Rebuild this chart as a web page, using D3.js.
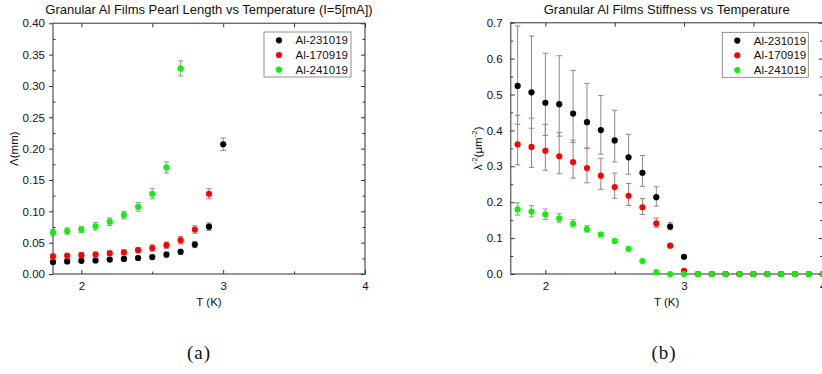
<!DOCTYPE html>
<html>
<head>
<meta charset="utf-8">
<script src="https://cdn.jsdelivr.net/npm/d3@7"></script>
<style>
  html, body { margin: 0; padding: 0; background: #fff; }
  svg { display: block; }
  text { font-family: "Liberation Sans", Arial, sans-serif; fill: #111; }
</style>
</head>
<body>
<svg id="fig" width="822" height="374"></svg>
<script>
// ---- series (temperatures in K) ----
const seriesNames = ["Al-231019", "Al-170919", "Al-241019"];
const seriesColors = ["#000000", "#ff0000", "#11ee11"];
const errColors = ["#8a8a8a", "#b07878", "#7fa87f"];

// Panel (a): pearl length Λ (mm) at I = 5 mA
const tempsA = [1.8, 1.9, 2.0, 2.1, 2.2, 2.3, 2.4, 2.5, 2.6, 2.7, 2.8, 2.9, 3.0];
const lambdaBlack = [0.019, 0.020, 0.021, 0.0215, 0.023, 0.024, 0.0255, 0.027, 0.031, 0.0355, 0.047, 0.0755, 0.207];
const lambdaBlackErr = [0.003, 0.003, 0.003, 0.003, 0.003, 0.003, 0.003, 0.003, 0.004, 0.004, 0.005, 0.006, 0.010];
const lambdaRed = [0.028, 0.029, 0.030, 0.031, 0.033, 0.0345, 0.038, 0.0415, 0.046, 0.054, 0.071, 0.128];
const lambdaRedErr = [0.004, 0.004, 0.004, 0.004, 0.004, 0.004, 0.004, 0.005, 0.005, 0.006, 0.006, 0.008];
const lambdaGreen = [0.066, 0.0685, 0.071, 0.076, 0.0835, 0.094, 0.107, 0.128, 0.170, 0.328];
const lambdaGreenErr = [0.005, 0.005, 0.005, 0.006, 0.006, 0.006, 0.007, 0.008, 0.009, 0.012];

// Panel (b): stiffness λ^-2 (μm^-2), asymmetric errors
const tempsB = [1.8, 1.9, 2.0, 2.1, 2.2, 2.3, 2.4, 2.5, 2.6, 2.7, 2.8, 2.9, 3.0,
                3.1, 3.2, 3.3, 3.4, 3.5, 3.6, 3.7, 3.8, 3.9, 4.0];
const stiffBlack = [0.524, 0.506, 0.477, 0.473, 0.447, 0.423, 0.401, 0.372, 0.325, 0.282, 0.214, 0.132, 0.048,
                    0, 0, 0, 0, 0, 0, 0, 0, 0, 0];
const stiffBlackUp = [0.167, 0.157, 0.138, 0.135, 0.120, 0.108, 0.096, 0.084, 0.064, 0.048, 0.029, 0.011, 0];
const stiffBlackDown = [0.107, 0.100, 0.091, 0.089, 0.081, 0.072, 0.067, 0.060, 0.047, 0.038, 0.025, 0.009, 0];
const stiffRed = [0.361, 0.354, 0.343, 0.328, 0.312, 0.295, 0.274, 0.242, 0.218, 0.186, 0.141, 0.079, 0.009,
                  0, 0, 0, 0, 0, 0, 0, 0, 0, 0];
const stiffRedUp = [0.081, 0.080, 0.074, 0.066, 0.061, 0.055, 0.048, 0.039, 0.034, 0.024, 0.015, 0.004, 0];
const stiffRedDown = [0.057, 0.057, 0.054, 0.049, 0.045, 0.041, 0.038, 0.031, 0.027, 0.020, 0.011, 0.004, 0];
const stiffGreen = [0.180, 0.174, 0.166, 0.155, 0.140, 0.125, 0.110, 0.092, 0.070, 0.036, 0.005, 0,
                    0, 0, 0, 0, 0, 0, 0, 0, 0, 0, 0];
const stiffGreenUp = [0.018, 0.016, 0.015, 0.013, 0.011, 0.0095, 0.006, 0.004, 0.003, 0.002, 0];
const stiffGreenDown = [0.016, 0.015, 0.014, 0.011, 0.009, 0.008, 0.006, 0.004, 0.003, 0.002, 0];

// ---- axis ticks ----
const xTicks = [2, 3, 4];
const xMinor = [2.5, 3.5];
const yTicksA = [0, 0.05, 0.10, 0.15, 0.20, 0.25, 0.30, 0.35, 0.40];
const yMinorA = [0.025, 0.075, 0.125, 0.175, 0.225, 0.275, 0.325, 0.375];
const yTicksB = [0, 0.1, 0.2, 0.3, 0.4, 0.5, 0.6, 0.7];
const yMinorB = [0.05, 0.15, 0.25, 0.35, 0.45, 0.55, 0.65];

const svg = d3.select("#fig");

function build(temps, vals, up, down) {
  return vals.map((v, i) => ({
    t: temps[i], v: v,
    up: up[i] === undefined ? 0 : up[i],
    down: down[i] === undefined ? 0 : down[i]
  }));
}

function panel(cfg) {
  const x = d3.scaleLinear().domain(cfg.xDomain).range([cfg.left, cfg.right]);
  const y = d3.scaleLinear().domain(cfg.yDomain).range([cfg.bottom, cfg.top]);
  const g = svg.append("g");
  const axisColor = "#6c6c6c";

  // frame
  g.append("rect")
    .attr("x", cfg.left).attr("y", cfg.top)
    .attr("width", cfg.right - cfg.left).attr("height", cfg.bottom - cfg.top)
    .attr("fill", "none").attr("stroke", axisColor).attr("stroke-width", 1.4);

  // bottom axis (ticks inward) and mirrored top ticks
  const bx = d3.axisBottom(x).tickValues(xTicks).tickSize(-4).tickPadding(8).tickFormat(d3.format("d"));
  const gb = g.append("g").attr("transform", `translate(0,${cfg.bottom})`).call(bx);
  gb.select(".domain").remove();
  gb.selectAll("line").attr("stroke", "#333").attr("stroke-width", 1);
  gb.selectAll("text").style("font-size", "11.5px").attr("fill", "#111");
  g.append("g").attr("transform", `translate(0,${cfg.bottom})`)
    .call(d3.axisBottom(x).tickValues(xMinor).tickSize(-2.5).tickFormat(""))
    .call(s => { s.select(".domain").remove(); s.selectAll("line").attr("stroke", "#333"); });
  g.append("g").attr("transform", `translate(0,${cfg.top})`)
    .call(d3.axisTop(x).tickValues(xTicks.concat(xMinor)).tickSize(-4).tickFormat(""))
    .call(s => { s.select(".domain").remove(); s.selectAll("line").attr("stroke", "#333"); });

  // left axis
  const lt = d3.axisLeft(y).tickValues(cfg.yTicks).tickSize(cfg.yOut ? 4 : -4)
    .tickPadding(cfg.yOut ? 4 : 8).tickFormat(d3.format(cfg.yFormat));
  const gl = g.append("g").attr("transform", `translate(${cfg.left},0)`).call(lt);
  gl.select(".domain").remove();
  gl.selectAll("line").attr("stroke", "#333");
  gl.selectAll("text").style("font-size", "11.5px").attr("fill", "#111");
  g.append("g").attr("transform", `translate(${cfg.left},0)`)
    .call(d3.axisLeft(y).tickValues(cfg.yMinor).tickSize(-2.5).tickFormat(""))
    .call(s => { s.select(".domain").remove(); s.selectAll("line").attr("stroke", "#333"); });
  // right axis mirrored ticks
  g.append("g").attr("transform", `translate(${cfg.right},0)`)
    .call(d3.axisRight(y).tickValues(cfg.yTicks).tickSize(-4).tickFormat(""))
    .call(s => { s.select(".domain").remove(); s.selectAll("line").attr("stroke", "#333"); });
  g.append("g").attr("transform", `translate(${cfg.right},0)`)
    .call(d3.axisRight(y).tickValues(cfg.yMinor).tickSize(-2.5).tickFormat(""))
    .call(s => { s.select(".domain").remove(); s.selectAll("line").attr("stroke", "#333"); });

  // title
  g.append("text")
    .attr("x", (cfg.left + cfg.right) / 2).attr("y", 14)
    .attr("text-anchor", "middle").style("font-size", "13px")
    .text(cfg.title);

  // x label
  g.append("text")
    .attr("x", (cfg.left + cfg.right) / 2).attr("y", 306)
    .attr("text-anchor", "middle").style("font-size", "11.5px")
    .text("T (K)");

  // y label
  const yl = g.append("text")
    .attr("transform", `translate(${cfg.yLabelX},${(cfg.top + cfg.bottom) / 2}) rotate(-90)`)
    .attr("text-anchor", "middle").style("font-size", "11.5px");
  cfg.yLabel(yl);

  // series: error bars then markers
  cfg.series.forEach((s, si) => {
    const sg = g.append("g");
    const withErr = s.filter(d => d.up > 0 || d.down > 0);
    sg.selectAll("line.eb").data(withErr).join("line")
      .attr("x1", d => x(d.t)).attr("x2", d => x(d.t))
      .attr("y1", d => y(d.v + d.up)).attr("y2", d => y(d.v - d.down))
      .attr("stroke", errColors[si]).attr("stroke-width", 1);
    sg.selectAll("line.cu").data(withErr).join("line")
      .attr("x1", d => x(d.t) - 2.7).attr("x2", d => x(d.t) + 2.7)
      .attr("y1", d => y(d.v + d.up)).attr("y2", d => y(d.v + d.up))
      .attr("stroke", errColors[si]).attr("stroke-width", 1);
    sg.selectAll("line.cd").data(withErr).join("line")
      .attr("x1", d => x(d.t) - 2.7).attr("x2", d => x(d.t) + 2.7)
      .attr("y1", d => y(d.v - d.down)).attr("y2", d => y(d.v - d.down))
      .attr("stroke", errColors[si]).attr("stroke-width", 1);
    sg.selectAll("circle").data(s).join("circle")
      .attr("cx", d => x(d.t)).attr("cy", d => y(d.v)).attr("r", 3.1)
      .attr("fill", seriesColors[si]);
  });

  // legend
  const lg = g.append("g");
  lg.append("rect")
    .attr("x", cfg.legend[0]).attr("y", cfg.legend[1])
    .attr("width", cfg.legend[2]).attr("height", 45)
    .attr("fill", "#fff").attr("stroke", "#777").attr("stroke-width", 0.8);
  seriesNames.forEach((n, i) => {
    const cy = cfg.legend[1] + 8.3 + i * 14.7;
    lg.append("circle").attr("cx", cfg.legend[0] + 15).attr("cy", cy).attr("r", 3.1)
      .attr("fill", seriesColors[i]);
    lg.append("text").attr("x", cfg.legend[0] + 31.5).attr("y", cy + 4)
      .style("font-size", "11.5px").text(n);
  });

  // caption
  svg.append("text")
    .attr("x", cfg.caption).attr("y", 359)
    .attr("text-anchor", "middle")
    .style("font-family", "'Liberation Serif', 'Times New Roman', serif")
    .style("font-size", "19px").style("letter-spacing", "1px")
    .text(cfg.captionText);
}

panel({
  xDomain: [1.8, 4], yDomain: [0, 0.4],
  left: 53, right: 365, top: 23.3, bottom: 274,
  yTicks: yTicksA, yMinor: yMinorA, yFormat: ".2f", yOut: true,
  title: "Granular Al Films Pearl Length vs Temperature (I=5[mA])",
  yLabelX: 18,
  yLabel: t => t.text("Λ(mm)"),
  series: [
    build(tempsA, lambdaBlack, lambdaBlackErr, lambdaBlackErr),
    build(tempsA, lambdaRed, lambdaRedErr, lambdaRedErr),
    build(tempsA, lambdaGreen, lambdaGreenErr, lambdaGreenErr)
  ],
  legend: [264, 32, 87],
  caption: 199, captionText: "(a)"
});

panel({
  xDomain: [1.75, 4], yDomain: [0, 0.7],
  left: 510.7, right: 822.7, top: 22.7, bottom: 274,
  yTicks: yTicksB, yMinor: yMinorB, yFormat: ".1f", yOut: false,
  title: "Granular Al Films Stiffness vs Temperature",
  yLabelX: 482,
  yLabel: t => {
    t.append("tspan").text("λ");
    t.append("tspan").attr("dy", -5).style("font-size", "8px").text("-2");
    t.append("tspan").attr("dy", 5).text("(μm");
    t.append("tspan").attr("dy", -5).style("font-size", "8px").text("-2");
    t.append("tspan").attr("dy", 5).text(")");
  },
  series: [
    build(tempsB, stiffBlack, stiffBlackUp, stiffBlackDown),
    build(tempsB, stiffRed, stiffRedUp, stiffRedDown),
    build(tempsB, stiffGreen, stiffGreenUp, stiffGreenDown)
  ],
  legend: [722.3, 32.3, 86],
  caption: 664, captionText: "(b)"
});
</script>
</body>
</html>
